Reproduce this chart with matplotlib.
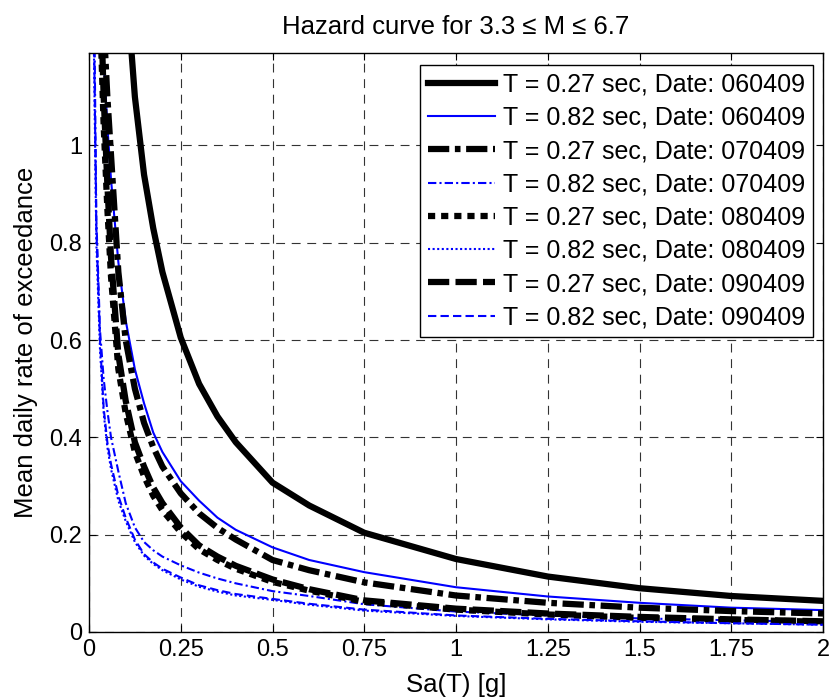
import matplotlib
matplotlib.use('Agg')
import matplotlib.pyplot as plt
from matplotlib.ticker import FormatStrFormatter

plt.rcParams['font.family'] = ['Liberation Sans', 'DejaVu Sans']

# Data
sa = [0.01, 0.02, 0.03, 0.04, 0.05, 0.06, 0.08, 0.1, 0.125, 0.15, 0.175, 0.2, 0.25,
      0.3, 0.35, 0.4, 0.5, 0.6, 0.75, 1.0, 1.25, 1.5, 1.75, 2.0]

t027_060409 = [5.0, 4.0, 3.2, 2.7, 2.3, 2.0, 1.65, 1.35, 1.1, 0.94, 0.83, 0.74, 0.605,
               0.51, 0.443, 0.39, 0.307, 0.26, 0.204, 0.15, 0.114, 0.09, 0.074, 0.064]
t082_060409 = [3.0, 2.0, 1.45, 1.18, 1.04, 0.93, 0.76, 0.64, 0.54, 0.47, 0.41, 0.37, 0.31,
               0.27, 0.235, 0.21, 0.174, 0.148, 0.123, 0.092, 0.073, 0.06, 0.05, 0.045]
t027_070409 = [3.0, 2.0, 1.5, 1.25, 1.1, 0.98, 0.74, 0.6, 0.5, 0.43, 0.38, 0.34, 0.285,
               0.244, 0.214, 0.19, 0.148, 0.127, 0.102, 0.075, 0.06, 0.05, 0.043, 0.038]
t082_070409 = [1.6, 0.85, 0.62, 0.52, 0.455, 0.4, 0.33, 0.265, 0.215, 0.185, 0.168, 0.155, 0.137,
               0.122, 0.11, 0.1, 0.084, 0.074, 0.057, 0.042, 0.034, 0.028, 0.024, 0.021]
t027_080409 = [2.5, 1.6, 1.28, 1.04, 0.87, 0.73, 0.54, 0.45, 0.37, 0.32, 0.28, 0.25, 0.205,
               0.17, 0.148, 0.13, 0.103, 0.085, 0.062, 0.046, 0.036, 0.029, 0.025, 0.021]
t082_080409 = [1.4, 0.8, 0.58, 0.45, 0.38, 0.335, 0.27, 0.228, 0.185, 0.157, 0.14, 0.127, 0.108,
               0.093, 0.083, 0.075, 0.066, 0.056, 0.044, 0.033, 0.026, 0.021, 0.018, 0.015]
t027_090409 = [2.6, 1.7, 1.35, 1.1, 0.92, 0.77, 0.57, 0.475, 0.39, 0.34, 0.297, 0.265, 0.215,
               0.178, 0.155, 0.136, 0.108, 0.088, 0.065, 0.048, 0.038, 0.031, 0.026, 0.022]
t082_090409 = [1.45, 0.83, 0.6, 0.46, 0.39, 0.345, 0.28, 0.235, 0.19, 0.16, 0.143, 0.13, 0.112,
               0.096, 0.086, 0.078, 0.068, 0.058, 0.046, 0.034, 0.027, 0.022, 0.018, 0.015]

xticks = [0, 0.25, 0.5, 0.75, 1, 1.25, 1.5, 1.75, 2]
yticks = [0, 0.2, 0.4, 0.6, 0.8, 1]

fig = plt.figure(figsize=(8.33, 6.97), dpi=100)
ax = fig.add_axes([89 / 833, 1 - 632 / 697, 734 / 833, 579 / 697])

thick = 4.5
thin = 1.5
ax.plot(sa, t027_060409, color='black', lw=thick, ls='-',
        label='T = 0.27 sec, Date: 060409')
ax.plot(sa, t082_060409, color='blue', lw=thin, ls='-',
        label='T = 0.82 sec, Date: 060409')
ax.plot(sa, t027_070409, color='black', lw=thick, ls=(0, (3.4, 0.9, 0.9, 0.9)),
        label='T = 0.27 sec, Date: 070409')
ax.plot(sa, t082_070409, color='blue', lw=thin, ls=(0, (4, 1.5, 1, 1.5)),
        label='T = 0.82 sec, Date: 070409')
ax.plot(sa, t027_080409, color='black', lw=thick, ls=(0, (1.15, 0.95)),
        label='T = 0.27 sec, Date: 080409')
ax.plot(sa, t082_080409, color='blue', lw=thin, ls=(0, (1, 1.2)),
        label='T = 0.82 sec, Date: 080409')
ax.plot(sa, t027_090409, color='black', lw=thick, ls=(0, (3.4, 1.0)),
        label='T = 0.27 sec, Date: 090409')
ax.plot(sa, t082_090409, color='blue', lw=thin, ls=(0, (4, 2)),
        label='T = 0.82 sec, Date: 090409')

ax.set_xlim(0, 2)
ax.set_ylim(0, 1.19)
ax.set_xticks(xticks)
ax.set_yticks(yticks)
ax.xaxis.set_major_formatter(FormatStrFormatter('%g'))
ax.yaxis.set_major_formatter(FormatStrFormatter('%g'))
ax.tick_params(direction='in', length=5, width=0.8, labelsize=17,
               top=True, right=True, pad=5)
ax.grid(True, color='#333333', lw=0.8, ls=(0, (8, 6)))
for s in ax.spines.values():
    s.set_linewidth(1.0)

ax.set_xlabel('Sa(T) [g]', fontsize=18.5, labelpad=9)
ax.set_ylabel('Mean daily rate of exceedance', fontsize=18.5, labelpad=8)
ax.set_title('Hazard curve for 3.3 \u2264 M \u2264 6.7', fontsize=18.5, pad=14)

leg = ax.legend(loc='upper right', bbox_to_anchor=(0.986, 0.979), borderaxespad=0,
                fontsize=18, fancybox=False, framealpha=1, edgecolor='black',
                handlelength=2.7, handletextpad=0.3, labelspacing=0.37,
                borderpad=0.3)
leg.get_frame().set_linewidth(1.0)

plt.savefig('out.png', dpi=100)
